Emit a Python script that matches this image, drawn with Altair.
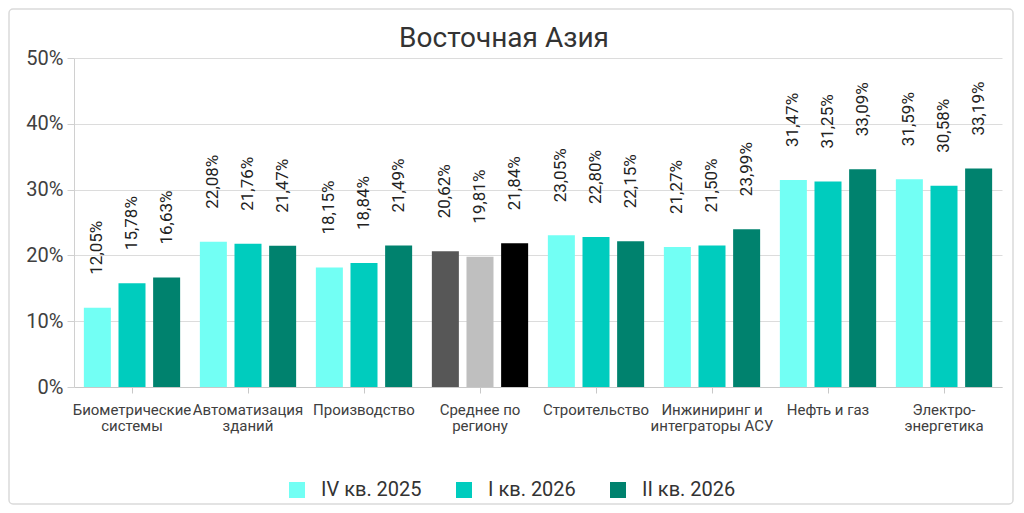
import altair as alt
import pandas as pd

categories = [
    "Биометрические\nсистемы",
    "Автоматизация\nзданий",
    "Производство",
    "Среднее по\nрегиону",
    "Строительство",
    "Инжиниринг и\nинтеграторы АСУ",
    "Нефть и газ",
    "Электро-\nэнергетика",
]
series = ["IV кв. 2025", "I кв. 2026", "II кв. 2026"]
q4_2025 = [12.05, 22.08, 18.15, 20.62, 23.05, 21.27, 31.47, 31.59]
q1_2026 = [15.78, 21.76, 18.84, 19.81, 22.80, 21.50, 31.25, 30.58]
q2_2026 = [16.63, 21.47, 21.49, 21.84, 22.15, 23.99, 33.09, 33.19]
avg_keys = ["Среднее IV кв. 2025", "Среднее I кв. 2026", "Среднее II кв. 2026"]
colors = ["#72FFF4", "#00CCBE", "#00826E", "#575757", "#BFBFBF", "#000000"]

rows = []
for ci, cat in enumerate(categories):
    for si, (s, vals) in enumerate(zip(series, [q4_2025, q1_2026, q2_2026])):
        v = vals[ci]
        key = avg_keys[si] if cat.startswith("Среднее") else s
        rows.append({
            "cat": cat,
            "series": s,
            "key": key,
            "value": v / 100.0,
            "label": f"{v:.2f}".replace(".", ",") + "%",
        })
df = pd.DataFrame(rows)

FONT = "Roboto"

x_enc = alt.X(
    "cat:N",
    sort=categories,
    scale=alt.Scale(paddingInner=0.17, paddingOuter=0.085),
    axis=alt.Axis(
        title=None,
        labelAngle=0,
        labelExpr="split(datum.label, '\\n')",
        labelFontSize=15,
        labelColor="#404040",
        labelFont=FONT,
        labelPadding=9,
        labelBaseline="top",
        labelLineHeight=16,
        tickSize=6,
        tickColor="#c8c8c8",
        domainColor="#c8c8c8",
        grid=False,
    ),
)
xoff = alt.XOffset("series:N", sort=series, scale=alt.Scale(paddingInner=0.22))
y_enc = alt.Y(
    "value:Q",
    scale=alt.Scale(domain=[0, 0.5]),
    axis=alt.Axis(
        title=None,
        format=".0%",
        values=[0, 0.1, 0.2, 0.3, 0.4, 0.5],
        labelFontSize=20,
        labelColor="#404040",
        labelFont=FONT,
        labelPadding=4,
        tickSize=7,
        tickColor="#d0d0d0",
        domainColor="#d0d0d0",
        gridColor="#dcdcdc",
        gridWidth=1,
    ),
)

bars = alt.Chart(df).mark_bar().encode(
    x=x_enc,
    xOffset=xoff,
    y=y_enc,
    color=alt.Color(
        "key:N",
        scale=alt.Scale(domain=series + avg_keys, range=colors),
        legend=alt.Legend(
            title=None,
            values=series,
            orient="none",
            legendX=213,
            legendY=422,
            direction="horizontal",
            symbolType="square",
            symbolSize=256,
            symbolStrokeWidth=0,
            labelFontSize=20,
            labelFont=FONT,
            labelColor="#333333",
            labelOffset=14,
            columnPadding=32,
        ),
    ),
)

labels = alt.Chart(df).mark_text(
    angle=270,
    align="left",
    baseline="middle",
    dx=33,
    fontSize=17,
    font=FONT,
    color="#222222",
).encode(
    x=alt.X("cat:N", sort=categories),
    xOffset=alt.XOffset("series:N", sort=series),
    y="value:Q",
    text="label:N",
)

frame = alt.Chart(pd.DataFrame({"a": [0]})).mark_rect(
    fill=None, stroke="#dadada", strokeWidth=1.5, cornerRadius=4, clip=False
).encode(
    x=alt.value(-65),
    x2=alt.value(939),
    y=alt.value(-49),
    y2=alt.value(446),
)

chart = (
    alt.layer(frame, bars, labels)
    .properties(
        width=928,
        height=329,
        padding={"left": 66, "top": 50, "right": 12, "bottom": 118},
        autosize=alt.AutoSizeParams(type="none"),
        title=alt.TitleParams(
            "Восточная Азия",
            fontSize=28,
            font=FONT,
            fontWeight="normal",
            color="#333333",
            dx=-34,
            dy=45,
            offset=0,
        ),
    )
    .configure_view(stroke=None)
)

chart.save("out.html", embed_options={"renderer": "svg", "actions": False})
